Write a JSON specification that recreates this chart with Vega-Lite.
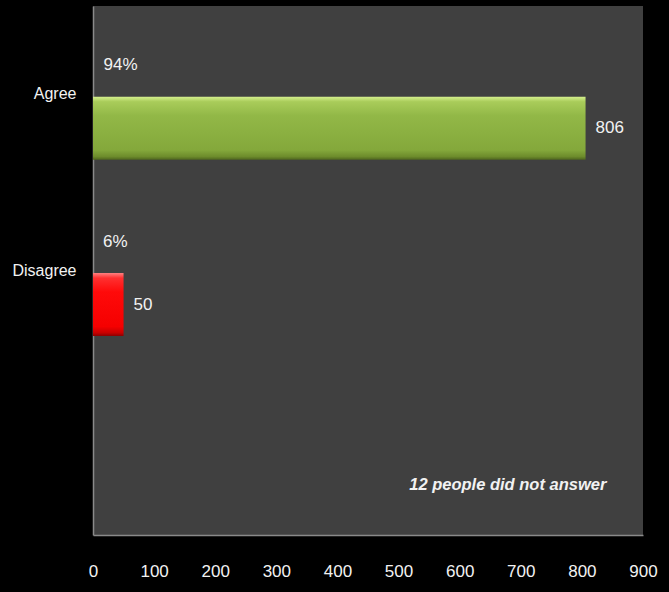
{
  "$schema": "https://vega.github.io/schema/vega-lite/v6.json",
  "width": 550,
  "height": 529,
  "autosize": {"type": "none"},
  "padding": {"left": 93, "top": 6, "right": 26, "bottom": 57},
  "background": "#000000",
  "view": {"fill": "#404040", "stroke": null},
  "config": {
    "font": "Liberation Sans"
  },
  "data": {
    "values": [
      {"category": "Agree", "series": "pct", "value": 0.94, "label": "94%"},
      {"category": "Agree", "series": "count", "value": 806, "label": "806"},
      {"category": "Disagree", "series": "pct", "value": 0.06, "label": "6%"},
      {"category": "Disagree", "series": "count", "value": 50, "label": "50"}
    ]
  },
  "encoding": {
    "y": {
      "field": "category",
      "type": "nominal",
      "scale": {"domain": ["Agree", "Disagree", "none"], "paddingInner": 0, "paddingOuter": 0},
      "axis": {
        "title": null,
        "ticks": false,
        "grid": false,
        "domainColor": "#8a8a8a",
        "domainWidth": 1.5,
        "labelColor": "#f2f2f2",
        "labelFontSize": 16,
        "labelPadding": 17,
        "labelExpr": "datum.value == 'none' ? '' : datum.value"
      }
    },
    "yOffset": {
      "field": "series",
      "type": "nominal",
      "scale": {"domain": ["pct", "count"], "paddingInner": 0, "paddingOuter": 0.4, "align": 0.55}
    },
    "x": {
      "field": "value",
      "type": "quantitative",
      "scale": {"domain": [0, 900], "nice": false},
      "axis": {
        "title": null,
        "values": [0, 100, 200, 300, 400, 500, 600, 700, 800, 900],
        "ticks": false,
        "grid": false,
        "domainColor": "#8a8a8a",
        "domainWidth": 1.5,
        "labelColor": "#f2f2f2",
        "labelFontSize": 17,
        "labelPadding": 28,
        "labelFlush": false
      }
    }
  },
  "layer": [
    {
      "transform": [{"filter": "datum.series == 'count' && datum.category == 'Agree'"}],
      "mark": {
        "type": "bar",
        "color": {
          "gradient": "linear",
          "x1": 0, "y1": 0, "x2": 0, "y2": 1,
          "stops": [
            {"offset": 0, "color": "#d6f08e"},
            {"offset": 0.08, "color": "#a9cc5a"},
            {"offset": 0.3, "color": "#92b847"},
            {"offset": 0.85, "color": "#84a83b"},
            {"offset": 0.95, "color": "#6d8c2c"},
            {"offset": 1, "color": "#4f661e"}
          ]
        }
      }
    },
    {
      "transform": [{"filter": "datum.series == 'count' && datum.category == 'Disagree'"}],
      "mark": {
        "type": "bar",
        "color": {
          "gradient": "linear",
          "x1": 0, "y1": 0, "x2": 0, "y2": 1,
          "stops": [
            {"offset": 0, "color": "#ff8080"},
            {"offset": 0.08, "color": "#ff3030"},
            {"offset": 0.3, "color": "#ff0a0a"},
            {"offset": 0.85, "color": "#f50000"},
            {"offset": 0.95, "color": "#c80000"},
            {"offset": 1, "color": "#8c0000"}
          ]
        }
      }
    },
    {
      "mark": {"type": "text", "align": "left", "baseline": "middle", "dx": 10, "fontSize": 17, "color": "#f2f2f2"},
      "encoding": {"text": {"field": "label", "type": "nominal"}}
    },
    {
      "data": {"values": [{"note": "12 people did not answer", "xpos": 840, "cat": "none", "ser": "count"}]},
      "mark": {"type": "text", "align": "right", "baseline": "middle", "dy": 4, "fontSize": 16.5, "fontStyle": "italic", "fontWeight": "bold", "color": "#f2f2f2"},
      "encoding": {
        "x": {"field": "xpos", "type": "quantitative"},
        "y": {"field": "cat", "type": "nominal"},
        "yOffset": {"field": "ser", "type": "nominal"},
        "text": {"field": "note", "type": "nominal"}
      }
    }
  ]
}
